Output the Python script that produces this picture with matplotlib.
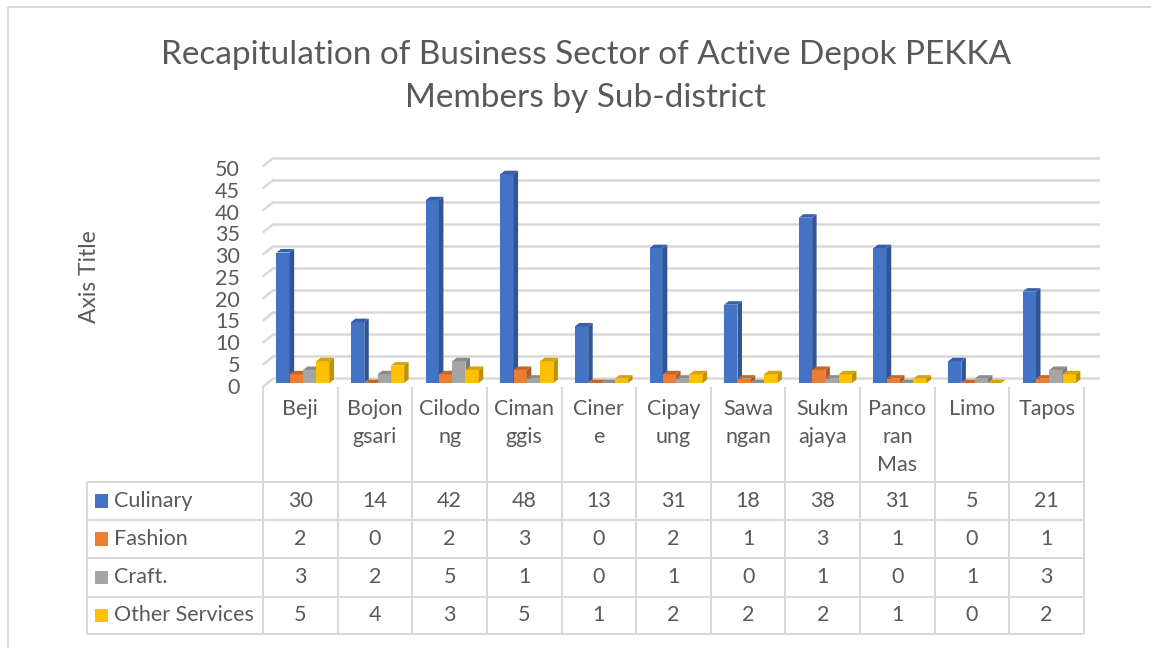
import matplotlib
matplotlib.use("Agg")
import matplotlib.pyplot as plt
from matplotlib.patches import Polygon, Rectangle
from matplotlib.transforms import IdentityTransform
import numpy as np

# ---------------- data ----------------
title_lines = ["Recapitulation of Business Sector of Active Depok PEKKA",
               "Members by Sub-district"]
categories = ["Beji", "Bojongsari", "Cilodong", "Cimanggis", "Cinere", "Cipayung",
              "Sawangan", "Sukmajaya", "Pancoran Mas", "Limo", "Tapos"]
category_labels = ["Beji", "Bojon\ngsari", "Cilodo\nng", "Ciman\nggis", "Ciner\ne",
                   "Cipay\nung", "Sawa\nngan", "Sukm\najaya", "Panco\nran\nMas",
                   "Limo", "Tapos"]
series_names = ["Culinary", "Fashion", "Craft.", "Other Services"]
culinary = [30, 14, 42, 48, 13, 31, 18, 38, 31, 5, 21]
fashion = [2, 0, 2, 3, 0, 2, 1, 3, 1, 0, 1]
craft = [3, 2, 5, 1, 0, 1, 0, 1, 0, 1, 3]
other_services = [5, 4, 3, 5, 1, 2, 2, 2, 1, 0, 2]
y_ticks = list(range(0, 55, 5))
axis_title = "Axis Title"

series_values = [culinary, fashion, craft, other_services]
front_colors = ["#4472C4", "#ED7D31", "#A5A5A5", "#FFC000"]
side_colors = ["#2F5597", "#AE5A21", "#7B7B7B", "#BF9000"]
top_colors = ["#3760AC", "#C96724", "#8C8C8C", "#D9A400"]

FONT = "Lato"
TXT = "#595959"
GRID = "#D9D9D9"
FS = 15.5
plt.rcParams["font.family"] = [FONT, "DejaVu Sans"]

W, H = 1151, 648
fig = plt.figure(figsize=(W / 100, H / 100), dpi=100)


def box(l, t, r, b):
    return [l / W, 1 - b / H, (r - l) / W, (b - t) / H]


# overlay axes in pixel space for layout elements (frame, table, titles)
ov = fig.add_axes([0, 0, 1, 1], zorder=0)
ov.set_xlim(0, W)
ov.set_ylim(H, 0)
ov.axis("off")

# back wall axes (gridlines)
axb = fig.add_axes(box(274, 157.5, 1098, 378), zorder=1)
axb.set_xlim(0, 1)
axb.set_ylim(0, 50)
axb.axis("off")

# bar axes
unit_px = 4.35
ax = fig.add_axes(box(263, 383 - 50 * unit_px, 1084, 383), zorder=2)
ax.set_xlim(-0.5, len(categories) - 0.5)
ax.set_ylim(0, 50)
ax.axis("off")
ax.patch.set_alpha(0)

fig.canvas.draw()

# frame
ov.plot([8, 8], [H + 5, 7], color=GRID, lw=1.5, solid_capstyle="butt")
ov.plot([8, W + 5], [7, 7], color=GRID, lw=1.5, solid_capstyle="butt")

# title
ov.text(586, 64, title_lines[0], ha="center", va="baseline", fontsize=24, color=TXT)
ov.text(586, 107, title_lines[1], ha="center", va="baseline", fontsize=24, color=TXT)

# axis title
ov.text(90, 277, axis_title, rotation=90, ha="center", va="center", fontsize=16.5, color=TXT)

# gridlines with perspective side wall
dxw, dyw = 11.5, 9.0
for v in y_ticks:
    axb.axhline(v, color=GRID, lw=1.8, clip_on=False)
    bx, by = axb.transData.transform((0, v))
    ov.plot([bx - dxw, bx], [H - (by - dyw), H - by], color=GRID, lw=1.8,
            solid_capstyle="butt")
    # tick label
    ax.annotate(str(v), xy=(0, v), xycoords=("axes fraction", "data"),
                xytext=(-23, -4.7), textcoords="offset pixels",
                ha="right", va="center", fontsize=FS, color=TXT)

# bars (front face via ax.bar, side/top faces via transformed data points)
w = 0.178
shift = 0.035
ddx, ddy = 4.5, 3.5
ident = IdentityTransform()
n = len(series_values)
for i, vals in enumerate(series_values):
    x0s = np.arange(len(categories)) + (i - n / 2) * w + shift
    ax.bar(x0s, vals, width=w, align="edge", color=front_colors[i],
           edgecolor="none", zorder=2, clip_on=False)
    for x0, h in zip(x0s, vals):
        x1 = x0 + w
        p_br = ax.transData.transform((x1, 0))
        p_tr = ax.transData.transform((x1, h))
        p_tl = ax.transData.transform((x0, h))
        off = np.array([ddx, ddy])
        side = [p_br, p_tr, p_tr + off, p_br + off]
        top = [p_tl, p_tr, p_tr + off, p_tl + off]
        ax.add_patch(Polygon(side, closed=True, transform=ident, facecolor=side_colors[i],
                             edgecolor="none", zorder=2, clip_on=False))
        ax.add_patch(Polygon(top, closed=True, transform=ident, facecolor=top_colors[i],
                             edgecolor="none", zorder=2, clip_on=False))

# data table
col_edges = [ax.transData.transform((k - 0.5, 0))[0] for k in range(len(categories) + 1)]
col_centers = [ax.transData.transform((k, 0))[0] for k in range(len(categories))]
row_lines = [482, 520, 558, 596.5, 634]
legend_left = 87
header_top = 387

for x in col_edges:
    ov.plot([x, x], [header_top, row_lines[-1]], color=GRID, lw=1.5, solid_capstyle="butt")
ov.plot([legend_left, legend_left], [row_lines[0], row_lines[-1]], color=GRID, lw=1.5,
        solid_capstyle="butt")
for y in row_lines:
    ov.plot([legend_left, col_edges[-1]], [y, y], color=GRID, lw=1.5, solid_capstyle="butt")

for xc, lab in zip(col_centers, category_labels):
    ov.text(xc, 399, lab, ha="center", va="top", fontsize=FS, color=TXT, linespacing=1.5)

for r, (name, vals) in enumerate(zip(series_names, series_values)):
    yc = (row_lines[r] + row_lines[r + 1]) / 2
    ov.add_patch(Rectangle((95, yc - 6.75), 13.5, 13.5, facecolor=front_colors[r],
                           edgecolor="none"))
    ov.text(114, yc, name, ha="left", va="center", fontsize=FS, color=TXT)
    for xc, v in zip(col_centers, vals):
        ov.text(xc, yc, str(v), ha="center", va="center", fontsize=FS, color=TXT)

fig.savefig("out.png", dpi=100)
